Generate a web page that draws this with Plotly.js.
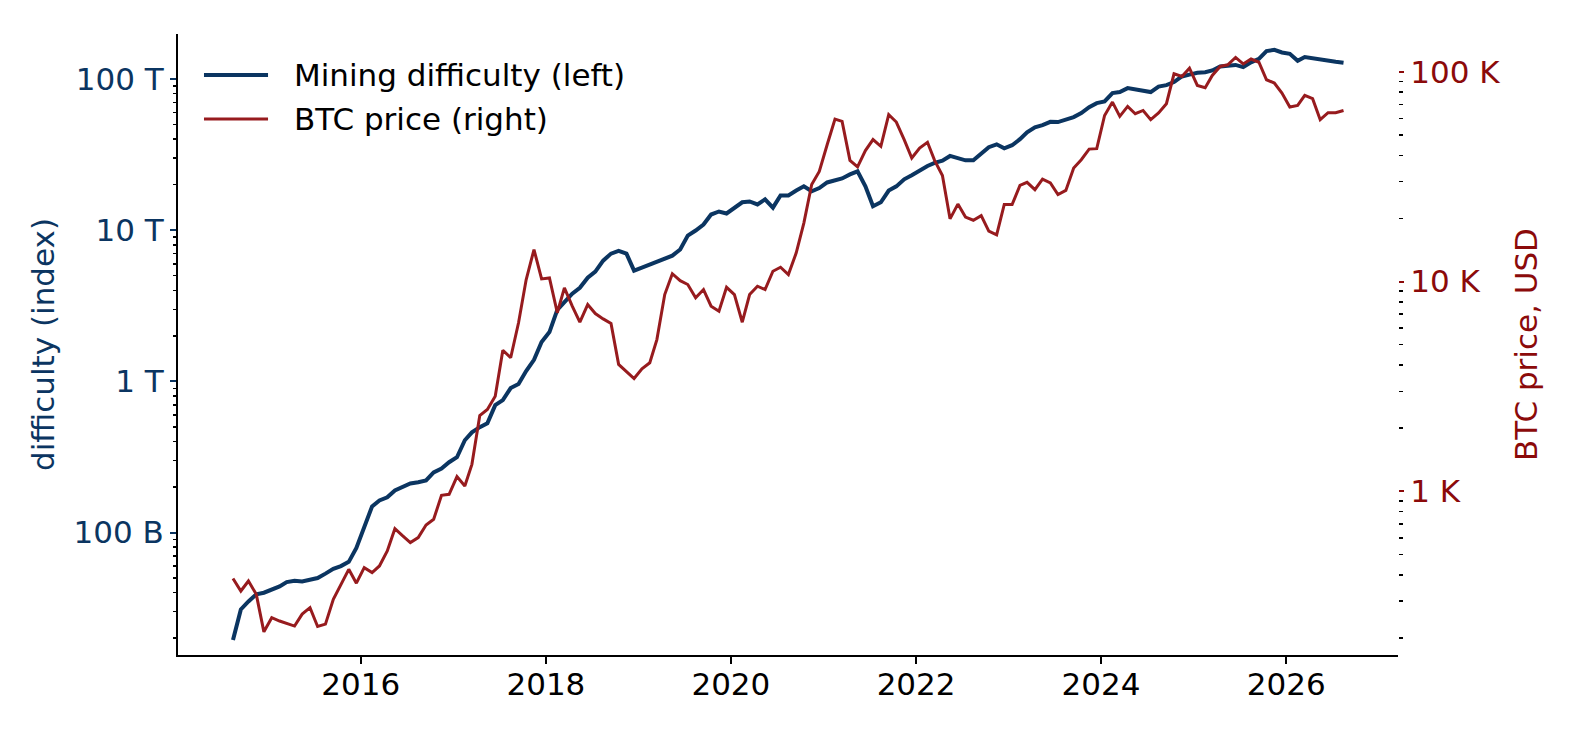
<!DOCTYPE html>
<html>
<head>
<meta charset="utf-8">
<script src="https://cdn.plot.ly/plotly-3.0.1.min.js"></script>
<style>
  html, body { margin: 0; padding: 0; background: #fff; }
  #chart { width: 1575px; height: 735px; }
</style>
</head>
<body>
<div id="chart"></div>
<script>
// monthly series, Aug 2014 .. Aug 2026 (one value per month)
const firstMonth = [2014, 8];
const numMonths = 145;

// mining difficulty, in T (1e12)
const difficulty2014 = [0.0195, 0.031, 0.035, 0.039, 0.040];
const difficulty2015 = [0.042, 0.044, 0.047, 0.048, 0.0475, 0.0485, 0.050, 0.0535, 0.0575, 0.060, 0.064, 0.079];
const difficulty2016 = [0.108, 0.149, 0.163, 0.171, 0.190, 0.201, 0.211, 0.215, 0.221, 0.250, 0.265, 0.292];
const difficulty2017 = [0.315, 0.408, 0.460, 0.498, 0.529, 0.697, 0.752, 0.903, 0.960, 1.17, 1.39, 1.82];
const difficulty2018 = [2.12, 2.97, 3.36, 3.80, 4.16, 4.85, 5.32, 6.29, 7.0, 7.3, 7.0, 5.4];
const difficulty2019 = [5.65, 5.92, 6.10, 6.39, 6.79, 7.45, 9.22, 9.95, 10.9, 12.7, 13.3, 12.9];
const difficulty2020 = [14.1, 15.3, 15.5, 14.8, 16.0, 14.1, 17.0, 17.0, 18.3, 19.5, 18.1, 19.0];
const difficulty2021 = [20.7, 21.4, 22.0, 23.4, 24.5, 19.5, 14.4, 15.3, 18.3, 19.5, 21.7, 23.1];
const difficulty2022 = [24.9, 26.6, 27.9, 28.8, 31.0, 30.1, 29.0, 29.0, 31.8, 35.4, 37.0, 34.8];
const difficulty2023 = [36.5, 40.0, 44.5, 48.0, 49.5, 52.1, 51.9, 53.8, 56.0, 59.5, 65.2, 69.3];
const difficulty2024 = [71.1, 80.7, 82, 87.1, 85.8, 84.1, 82, 89.2, 91.2, 95.5, 104, 107];
const difficulty2025 = [110, 111, 114, 121, 123, 124, 120, 129, 136, 153, 156, 150];
const difficulty2026 = [147, 132, 140, 137, 134, 132, 130, 128];

// BTC price, USD
const price2014 = [384, 335, 374, 323, 214];
const price2015 = [250, 241, 235, 228, 260, 279, 227, 233, 306, 361, 425, 365];
const price2016 = [433, 410, 441, 520, 664, 613, 570, 602, 691, 736, 957, 968];
const price2017 = [1175, 1060, 1345, 2300, 2456, 2843, 4707, 4333, 6360, 10200, 14200, 10300];
const price2018 = [10400, 7100, 9330, 7630, 6400, 7770, 7040, 6640, 6310, 4030, 3740, 3450];
const price2019 = [3840, 4100, 5290, 8670, 10900, 10100, 9680, 8360, 9160, 7630, 7220, 9390];
const price2020 = [8670, 6400, 8670, 9500, 9160, 11200, 11700, 10800, 13700, 19000, 29000, 33500];
const price2021 = [44900, 59500, 58000, 37800, 35200, 42100, 47500, 44100, 62400, 57600, 47500, 38800];
const price2022 = [43300, 46100, 37800, 32000, 19900, 23400, 20300, 19600, 20600, 17400, 16700, 23300];
const price2023 = [23300, 28700, 29700, 27400, 30800, 29500, 26000, 27200, 34800, 38100, 42800, 43000];
const price2024 = [61900, 71700, 61300, 68400, 63100, 65400, 59100, 63600, 70400, 97800, 95000, 104000];
const price2025 = [86100, 83900, 96000, 106000, 108000, 117000, 109000, 115000, 111000, 91600, 88400, 79200];
const price2026 = [67900, 69100, 77100, 74400, 59100, 63800, 63800, 65400];

const leftTickVals = [1e11, 1e12, 1e13, 1e14];
const leftTickText = ['100 B', '1 T', '10 T', '100 T'];
const rightTickVals = [1e3, 1e4, 1e5];
const rightTickText = ['1 K', '10 K', '100 K'];

const navy = '#0b3561';
const red = '#971b1e';
const darkred = '#8b0a0a';
const font = 'DejaVu Sans, Verdana, sans-serif';
const fontSize = 31;

// mid-month dates
const months = [];
for (let i = 0; i < numMonths; i++) {
  const m0 = firstMonth[1] - 1 + i;
  const y = firstMonth[0] + Math.floor(m0 / 12);
  const m = (m0 % 12) + 1;
  months.push(`${y}-${String(m).padStart(2, '0')}-15`);
}

const difficulty = [].concat(difficulty2014, difficulty2015, difficulty2016, difficulty2017,
  difficulty2018, difficulty2019, difficulty2020, difficulty2021, difficulty2022,
  difficulty2023, difficulty2024, difficulty2025, difficulty2026).map(v => v * 1e12);
const price = [].concat(price2014, price2015, price2016, price2017, price2018, price2019,
  price2020, price2021, price2022, price2023, price2024, price2025, price2026);

function minorTicks(fromExp, toExp) {
  const vals = [];
  for (let e = fromExp; e <= toExp; e++) {
    for (let k = 2; k <= 9; k++) vals.push(k * Math.pow(10, e));
  }
  return vals;
}

const diffTrace = {
  x: months,
  y: difficulty,
  type: 'scatter',
  mode: 'lines',
  line: {color: navy, width: 4},
  name: 'Mining difficulty (left)',
  yaxis: 'y',
};
const priceTrace = {
  x: months,
  y: price,
  type: 'scatter',
  mode: 'lines',
  line: {color: red, width: 3},
  name: 'BTC price (right)',
  yaxis: 'y2',
};

// legend drawn by hand to get the long matplotlib-style swatches
const legendRows = [
  {label: 'Mining difficulty (left)', color: navy, width: 4, y: 0.934},
  {label: 'BTC price (right)', color: red, width: 3, y: 0.863},
];

const layout = {
  width: 1575,
  height: 735,
  margin: {l: 178, r: 177, t: 34, b: 80},
  paper_bgcolor: '#fff',
  plot_bgcolor: '#fff',
  font: {family: font, size: fontSize, color: '#000'},
  showlegend: false,
  xaxis: {
    type: 'date',
    range: ['2014-01-10', '2027-03-18'],
    tickmode: 'linear',
    tick0: '2016-01-01',
    dtick: 'M24',
    tickformat: '%Y',
    showline: true,
    linecolor: '#000',
    linewidth: 2,
    ticks: 'outside',
    ticklen: 7,
    tickwidth: 2,
    tickcolor: '#000',
    ticklabelstandoff: -6,
    tickfont: {family: font, size: fontSize, color: '#000'},
    showgrid: false,
    zeroline: false,
  },
  yaxis: {
    type: 'log',
    range: [10.19, 14.298],
    tickmode: 'array',
    tickvals: leftTickVals,
    ticktext: leftTickText,
    ticks: 'outside',
    ticklen: 6,
    tickwidth: 2,
    tickcolor: navy,
    tickfont: {family: font, size: fontSize, color: navy},
    showline: true,
    linecolor: '#000',
    linewidth: 2,
    showgrid: false,
    zeroline: false,
    minor: {
      tickmode: 'array',
      tickvals: minorTicks(10, 14),
      ticks: 'outside',
      ticklen: 3.5,
      tickwidth: 1.5,
      tickcolor: '#000',
      showgrid: false,
    },
    title: {text: 'difficulty (index)', font: {family: font, size: fontSize, color: navy}, standoff: 10},
  },
  yaxis2: {
    type: 'log',
    overlaying: 'y',
    side: 'right',
    anchor: 'x',
    range: [2.22, 5.18],
    tickmode: 'array',
    tickvals: rightTickVals,
    ticktext: rightTickText,
    ticks: 'outside',
    ticklen: 5,
    tickwidth: 2,
    tickcolor: darkred,
    tickfont: {family: font, size: fontSize, color: darkred},
    showline: false,
    showgrid: false,
    zeroline: false,
    minor: {
      tickmode: 'array',
      tickvals: minorTicks(2, 5),
      ticks: 'outside',
      ticklen: 3.5,
      tickwidth: 1.5,
      tickcolor: '#000',
      showgrid: false,
    },
    title: {text: 'BTC price, USD', font: {family: font, size: fontSize, color: darkred}, standoff: 16},
  },
  shapes: legendRows.map(r => ({
    type: 'line', xref: 'paper', yref: 'paper',
    x0: 0.0213, x1: 0.0738, y0: r.y, y1: r.y,
    line: {color: r.color, width: r.width},
  })),
  annotations: legendRows.map(r => ({
    xref: 'paper', yref: 'paper',
    x: 0.0934, y: r.y,
    xanchor: 'left', yanchor: 'middle',
    text: r.label, showarrow: false,
    font: {family: font, size: fontSize, color: '#000'},
  })),
};

Plotly.newPlot('chart', [diffTrace, priceTrace], layout, {staticPlot: true, displayModeBar: false});
</script>
</body>
</html>
